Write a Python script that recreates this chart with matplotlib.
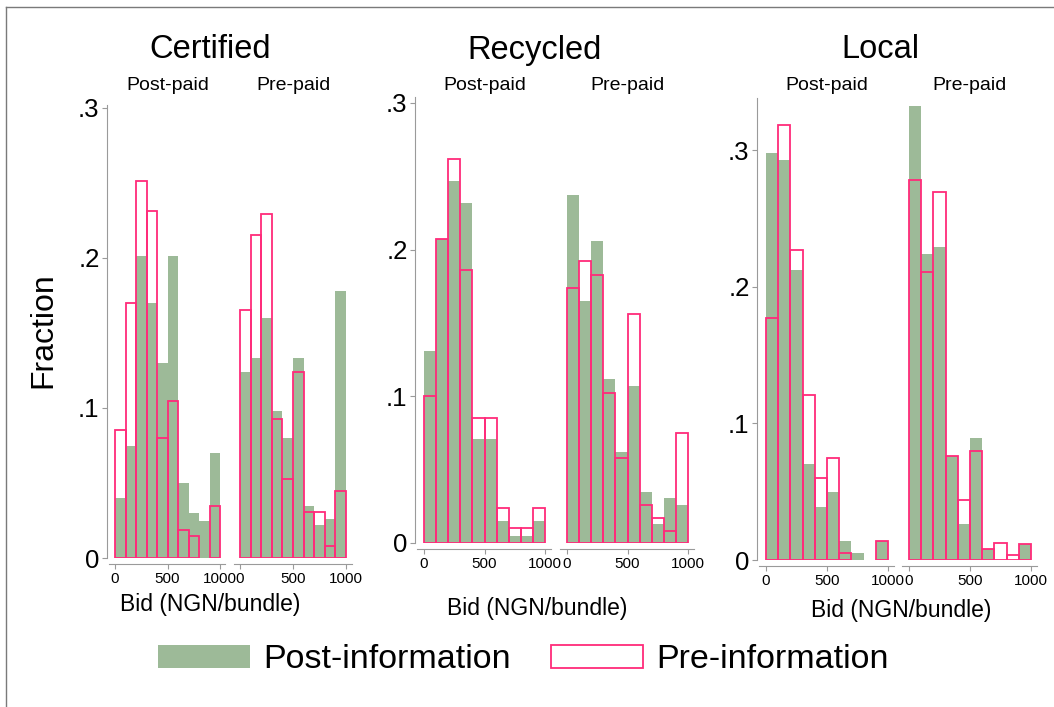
import numpy as np
import matplotlib.pyplot as plt
from matplotlib.lines import Line2D

plt.rcParams['font.family'] = ['Liberation Sans', 'DejaVu Sans']

# bin left edges (NGN/bundle), width 100
bin_edges = [0, 100, 200, 300, 400, 500, 600, 700, 800, 900]

# fraction of bids per bin: Post-information / Pre-information
cert_postpaid_post = [0.040, 0.075, 0.201, 0.170, 0.130, 0.201, 0.050, 0.030, 0.025, 0.070]
cert_postpaid_pre = [0.085, 0.170, 0.251, 0.231, 0.080, 0.105, 0.019, 0.0145, 0, 0.035]
cert_prepaid_post = [0.124, 0.133, 0.160, 0.098, 0.080, 0.133, 0.035, 0.022, 0.026, 0.178]
cert_prepaid_pre = [0.165, 0.215, 0.229, 0.093, 0.053, 0.124, 0.031, 0.031, 0.008, 0.0445]

rec_postpaid_post = [0.131, 0.207, 0.247, 0.232, 0.071, 0.071, 0.015, 0.005, 0.005, 0.015]
rec_postpaid_pre = [0.100, 0.207, 0.262, 0.186, 0.085, 0.085, 0.024, 0.010, 0.010, 0.024]
rec_prepaid_post = [0.237, 0.165, 0.206, 0.112, 0.062, 0.107, 0.035, 0.013, 0.031, 0.026]
rec_prepaid_pre = [0.174, 0.192, 0.183, 0.102, 0.058, 0.156, 0.026, 0.017, 0.008, 0.075]

loc_postpaid_post = [0.298, 0.293, 0.212, 0.070, 0.039, 0.050, 0.014, 0.005, 0, 0.014]
loc_postpaid_pre = [0.177, 0.318, 0.227, 0.121, 0.060, 0.075, 0.005, 0, 0, 0.014]
loc_prepaid_post = [0.332, 0.224, 0.229, 0.076, 0.026, 0.089, 0.008, 0, 0, 0.012]
loc_prepaid_pre = [0.278, 0.211, 0.269, 0.076, 0.044, 0.080, 0.008, 0.0125, 0.004, 0.012]

group_titles = ['Certified', 'Recycled', 'Local']
panel_titles = ['Post-paid', 'Pre-paid']
y_ticks = [0, 0.1, 0.2, 0.3]
y_tick_labels = ['0', '.1', '.2', '.3']
x_ticks = [0, 500, 1000]

GREEN = '#9dba98'
PINK = '#ff2b7a'
GREY = '#9a9a9a'

W, H = 1054, 707
fig = plt.figure(figsize=(W / 100, H / 100), dpi=100)

XLO, XHI = -55, 1052


def make_axes(x0, x1, base, top_y, ytop):
    # x0/x1: pixel of bid 0 and 1000, base: pixel of fraction 0, top_y: pixel of .3
    ppu = (base - top_y) / 0.3
    sx = (x1 - x0) / 1000
    left = x0 + XLO * sx
    width = (XHI - XLO) * sx
    return fig.add_axes([left / W, (H - base) / H, width / W, ytop * ppu / H])


def draw(ax, post, pre, first):
    post = np.array(post)
    pre = np.array(pre)
    edges = np.array(bin_edges)
    m = post > 0
    g = ax.bar(edges[m], post[m], width=100, align='edge', color=GREEN,
               edgecolor='none', zorder=2)
    m = pre > 0
    p = ax.bar(edges[m], pre[m], width=100, align='edge', fill=False,
               edgecolor=PINK, linewidth=1.3, zorder=3)
    ax.set_xlim(XLO, XHI)
    ax.set_xticks(x_ticks, [str(t) for t in x_ticks])
    for s in ['top', 'right']:
        ax.spines[s].set_visible(False)
    ax.spines['bottom'].set_position(('outward', 4.5))
    ax.spines['bottom'].set_color(GREY)
    ax.tick_params(axis='x', labelsize=11, length=3.5, color=GREY, pad=2)
    if first:
        ax.spines['left'].set_position(('outward', 1.5))
        ax.spines['left'].set_color(GREY)
        ax.set_yticks(y_ticks, y_tick_labels)
        ax.tick_params(axis='y', labelsize=18.5, length=3.5, color=GREY, pad=2)
    else:
        ax.spines['left'].set_visible(False)
        ax.set_yticks([])
    ax.set_facecolor('none')
    return g, p


# (post-paid x0, x1), (pre-paid x0, x1), baseline, .3 pixel, ylim top
layout = [
    ((115, 220), (240, 346), 558, 108, 0.302),
    ((424, 545), (567, 688), 543, 103, 0.304),
    ((766, 888), (909, 1031), 560, 150, 0.338),
]
data = [
    [(cert_postpaid_post, cert_postpaid_pre), (cert_prepaid_post, cert_prepaid_pre)],
    [(rec_postpaid_post, rec_postpaid_pre), (rec_prepaid_post, rec_prepaid_pre)],
    [(loc_postpaid_post, loc_postpaid_pre), (loc_prepaid_post, loc_prepaid_pre)],
]
title_x = [210, 535, 880]
xlabel_pos = [(210, 605), (537, 609), (901, 611)]

for gi, (lay, series) in enumerate(zip(layout, data)):
    (a0, a1), (b0, b1), base, top_y, ytop = lay
    for pi, (xs, (post, pre)) in enumerate(zip([(a0, a1), (b0, b1)], series)):
        ax = make_axes(xs[0], xs[1], base, top_y, ytop)
        ax.set_ylim(0, ytop)
        handles = draw(ax, post, pre, pi == 0)
        fig.text((xs[0] + xs[1]) / 2 / W, 1 - 85 / H, panel_titles[pi],
                 ha='center', va='center', fontsize=14)
    fig.text(title_x[gi] / W, 1 - 50 / H, group_titles[gi],
             ha='center', va='center', fontsize=23.5)
    fig.text(xlabel_pos[gi][0] / W, 1 - xlabel_pos[gi][1] / H, 'Bid (NGN/bundle)',
             ha='center', va='center', fontsize=16.5)

fig.text(43 / W, 1 - 330 / H, 'Fraction', rotation=90, ha='center', va='center',
         fontsize=23)

fig.legend(handles, ['Post-information', 'Pre-information'], ncol=2,
           loc='center left', bbox_to_anchor=(158 / W, 1 - 660 / H),
           frameon=False, fontsize=24.5, borderpad=0, borderaxespad=0,
           handlelength=2.7, handleheight=0.65, handletextpad=0.38,
           columnspacing=1.2)

# outer frame (left and top)
fig.add_artist(Line2D([6 / W, 6 / W], [0, 1 - 7 / H], color='#7a7a7a', lw=1,
                      transform=fig.transFigure))
fig.add_artist(Line2D([6 / W, 1], [1 - 7 / H, 1 - 7 / H], color='#7a7a7a', lw=1,
                      transform=fig.transFigure))

fig.savefig('out.png', dpi=100)
